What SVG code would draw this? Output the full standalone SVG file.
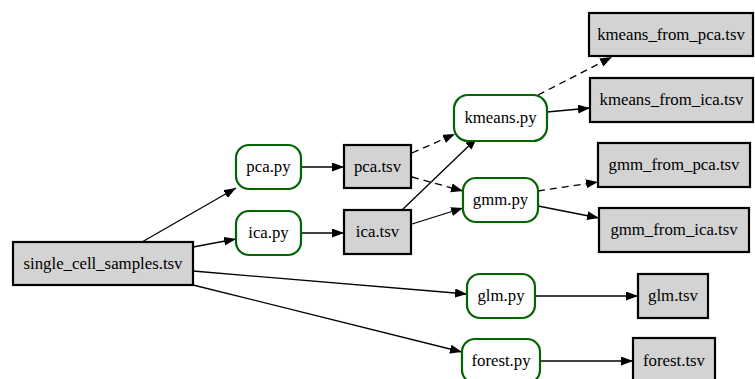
<svg xmlns="http://www.w3.org/2000/svg" width="755" height="379" viewBox="0 0 755 379">
  <style>
    text { font-family: "Liberation Serif", "Times New Roman", serif; font-size: 16.8px; fill: #000; text-anchor: middle; }
    .proc { fill: #fff; stroke: #006400; stroke-width: 2.2; }
    .file { fill: #d3d3d3; stroke: #000; stroke-width: 2.2; }
    .edge { fill: none; stroke: #000; stroke-width: 1.3; marker-end: url(#arrow); }
    .dashed { stroke-dasharray: 7 5; }
  </style>
  <defs>
    <marker id="arrow" markerUnits="userSpaceOnUse" markerWidth="14" markerHeight="10" refX="12" refY="4.5" orient="auto">
      <path d="M0,0 L12,4.5 L0,9 z" fill="#000" stroke="none"/>
    </marker>
  </defs>
  <rect width="755" height="379" fill="#fff"/>

  <!-- connectors -->
  <g id="edges">
    <line class="edge" x1="142" y1="242" x2="236" y2="188"/>
    <line class="edge" x1="193" y1="247" x2="236" y2="239"/>
    <line class="edge" x1="193" y1="271" x2="467" y2="294"/>
    <line class="edge" x1="193" y1="285" x2="462" y2="352"/>
    <line class="edge" x1="301" y1="167" x2="344" y2="167"/>
    <line class="edge" x1="301" y1="233" x2="344" y2="233"/>
    <line class="edge dashed" x1="412" y1="153" x2="455" y2="134"/>
    <line class="edge dashed" x1="412" y1="177" x2="463" y2="191"/>
    <line class="edge" x1="402" y1="210" x2="477" y2="138"/>
    <line class="edge" x1="412" y1="224" x2="463" y2="208"/>
    <line class="edge dashed" x1="538" y1="95" x2="612" y2="57"/>
    <line class="edge" x1="547" y1="112" x2="590" y2="108"/>
    <line class="edge dashed" x1="538" y1="191" x2="598" y2="182"/>
    <line class="edge" x1="538" y1="206" x2="599" y2="218"/>
    <line class="edge" x1="535" y1="296" x2="638" y2="296"/>
    <line class="edge" x1="540" y1="361" x2="633" y2="361"/>
  </g>

  <!-- nodes -->
  <g id="single_cell_samples">
    <rect class="file" x="13" y="242" width="180" height="43"/>
    <text x="103" y="269">single_cell_samples.tsv</text>
  </g>
  <g id="pca_py">
    <rect class="proc" x="236" y="145" width="65" height="44" rx="13"/>
    <text x="268.5" y="172">pca.py</text>
  </g>
  <g id="ica_py">
    <rect class="proc" x="236" y="211" width="65" height="44" rx="13"/>
    <text x="268.5" y="238">ica.py</text>
  </g>
  <g id="pca_tsv">
    <rect class="file" x="344" y="145" width="67" height="43"/>
    <text x="377.5" y="172">pca.tsv</text>
  </g>
  <g id="ica_tsv">
    <rect class="file" x="344" y="210" width="67" height="44"/>
    <text x="377.5" y="237">ica.tsv</text>
  </g>
  <g id="kmeans_py">
    <rect class="proc" x="454" y="95" width="93" height="46" rx="14"/>
    <text x="500.5" y="123">kmeans.py</text>
  </g>
  <g id="gmm_py">
    <rect class="proc" x="463" y="178" width="75" height="44" rx="13"/>
    <text x="500.5" y="205">gmm.py</text>
  </g>
  <g id="kmeans_from_pca">
    <rect class="file" x="589" y="13" width="164" height="43"/>
    <text x="671" y="40">kmeans_from_pca.tsv</text>
  </g>
  <g id="kmeans_from_ica">
    <rect class="file" x="590" y="78" width="163" height="44"/>
    <text x="671.5" y="105">kmeans_from_ica.tsv</text>
  </g>
  <g id="gmm_from_pca">
    <rect class="file" x="598" y="143" width="152" height="44"/>
    <text x="674" y="170">gmm_from_pca.tsv</text>
  </g>
  <g id="gmm_from_ica">
    <rect class="file" x="599" y="208" width="150" height="44"/>
    <text x="674" y="235">gmm_from_ica.tsv</text>
  </g>
  <g id="glm_py">
    <rect class="proc" x="467" y="274" width="68" height="44" rx="13"/>
    <text x="501" y="301">glm.py</text>
  </g>
  <g id="glm_tsv">
    <rect class="file" x="638" y="274" width="70" height="44"/>
    <text x="673" y="301">glm.tsv</text>
  </g>
  <g id="forest_py">
    <rect class="proc" x="462" y="339" width="78" height="44" rx="13"/>
    <text x="501" y="366">forest.py</text>
  </g>
  <g id="forest_tsv">
    <rect class="file" x="633" y="338" width="82" height="44"/>
    <text x="674" y="366">forest.tsv</text>
  </g>
</svg>
